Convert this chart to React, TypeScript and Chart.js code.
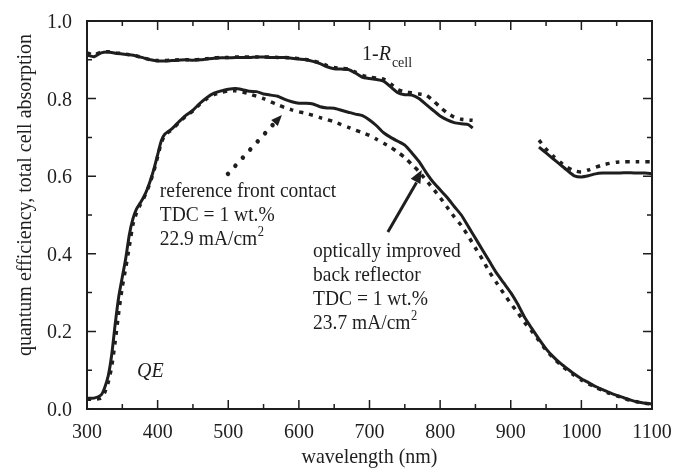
import { useEffect, useRef } from "react";
import { Chart, registerables } from "chart.js";

Chart.register(...registerables);

// ---------- data ----------
const qeWl = [300, 310, 320, 325, 330, 335, 340, 345, 350, 355, 360, 365, 370, 375, 380, 385, 390, 395, 400, 405, 410,
  420, 430, 440, 450, 460, 470, 480, 490, 500, 510, 520, 530, 540, 550, 560, 570, 580, 590, 600, 610, 620, 630, 640, 650,
  660, 670, 680, 690, 700, 710, 720, 730, 740, 750, 760, 770, 780, 790, 800, 810, 820, 830, 840, 850, 860, 870, 880, 890,
  900, 910, 920, 930, 940, 950, 960, 970, 980, 990, 1000, 1010, 1020, 1030, 1040, 1050, 1060, 1070, 1080, 1090, 1100];

// optically improved back reflector (solid)
const qeImproved = [0.028, 0.028, 0.036, 0.055, 0.085, 0.14, 0.22, 0.29, 0.34, 0.39, 0.45, 0.49, 0.515, 0.53, 0.545, 0.565, 0.59, 0.62, 0.655, 0.69, 0.708,
  0.722, 0.74, 0.757, 0.77, 0.788, 0.803, 0.814, 0.82, 0.824, 0.826, 0.823, 0.819, 0.818, 0.812, 0.809, 0.806, 0.798, 0.792, 0.788, 0.788, 0.786, 0.779, 0.776, 0.775,
  0.77, 0.765, 0.76, 0.756, 0.745, 0.73, 0.712, 0.7, 0.69, 0.68, 0.66, 0.638, 0.61, 0.585, 0.565, 0.545, 0.522, 0.5, 0.47, 0.44, 0.41, 0.38, 0.35, 0.325,
  0.3, 0.27, 0.235, 0.207, 0.18, 0.155, 0.135, 0.118, 0.104, 0.09, 0.078, 0.068, 0.058, 0.05, 0.042, 0.035, 0.029, 0.023, 0.018, 0.015, 0.013];

// reference front contact (dotted)
const qeReference = [0.025, 0.025, 0.028, 0.042, 0.068, 0.11, 0.175, 0.25, 0.315, 0.365, 0.42, 0.475, 0.505, 0.525, 0.542, 0.562, 0.587, 0.615, 0.65, 0.685, 0.705,
  0.72, 0.738, 0.755, 0.768, 0.786, 0.8, 0.81, 0.816, 0.82, 0.82, 0.817, 0.812, 0.806, 0.8, 0.792, 0.784, 0.777, 0.771, 0.766, 0.762, 0.757, 0.751, 0.746, 0.74,
  0.733, 0.726, 0.719, 0.712, 0.705, 0.695, 0.685, 0.675, 0.662, 0.648, 0.63, 0.612, 0.59, 0.568, 0.545, 0.52, 0.495, 0.473, 0.445, 0.415, 0.385, 0.353, 0.325, 0.298,
  0.272, 0.248, 0.222, 0.2, 0.176, 0.152, 0.132, 0.115, 0.1, 0.087, 0.075, 0.065, 0.056, 0.048, 0.04, 0.034, 0.028, 0.022, 0.018, 0.015, 0.013];

// 1 - R_cell, first segment
const rWl = [300, 310, 320, 330, 340, 350, 360, 370, 380, 390, 400, 410, 420, 430, 440, 450, 460, 470, 480, 490, 500,
  510, 520, 530, 540, 550, 560, 570, 580, 590, 600, 610, 620, 630, 640, 650, 660, 670, 680, 690, 700,
  710, 720, 730, 740, 750, 760, 770, 780, 790, 800, 810, 820, 830, 840, 846];
const rImproved = [0.912, 0.908, 0.918, 0.92, 0.917, 0.915, 0.913, 0.91, 0.905, 0.9, 0.897, 0.897, 0.898, 0.899, 0.9, 0.899, 0.9, 0.902, 0.904, 0.905, 0.905,
  0.906, 0.906, 0.906, 0.907, 0.907, 0.906, 0.906, 0.906, 0.904, 0.902, 0.9, 0.896, 0.89, 0.882, 0.877, 0.876, 0.875, 0.866, 0.855, 0.852,
  0.849, 0.845, 0.83, 0.815, 0.81, 0.809, 0.8, 0.785, 0.77, 0.755, 0.745, 0.738, 0.735, 0.733, 0.724];
const rReference = [0.918, 0.912, 0.92, 0.921, 0.918, 0.916, 0.913, 0.91, 0.905, 0.9, 0.898, 0.898, 0.899, 0.9, 0.9, 0.9, 0.901, 0.903, 0.905, 0.906, 0.906,
  0.907, 0.907, 0.907, 0.907, 0.907, 0.907, 0.906, 0.906, 0.905, 0.903, 0.901, 0.897, 0.892, 0.885, 0.88, 0.878, 0.876, 0.868, 0.86, 0.855,
  0.853, 0.85, 0.838, 0.823, 0.817, 0.815, 0.812, 0.809, 0.795, 0.778, 0.763, 0.752, 0.747, 0.745, 0.744];

// 1 - R_cell, second segment
const r2Wl = [940, 950, 960, 970, 980, 990, 1000, 1010, 1020, 1030, 1040, 1050, 1060, 1070, 1080, 1090, 1100];
const r2Improved = [0.675, 0.66, 0.645, 0.63, 0.615, 0.601, 0.598, 0.601, 0.606, 0.608, 0.608, 0.608, 0.609, 0.609, 0.608, 0.608, 0.607];
const r2Reference = [0.693, 0.67, 0.652, 0.636, 0.623, 0.614, 0.611, 0.616, 0.623, 0.629, 0.633, 0.636, 0.637, 0.637, 0.637, 0.637, 0.637];

const xTicks = [300, 400, 500, 600, 700, 800, 900, 1000, 1100];
const yTicks = [0, 0.2, 0.4, 0.6, 0.8, 1.0];
const xTitle = "wavelength (nm)";
const yTitle = "quantum efficiency, total cell absorption";
const refLines = ["reference front contact", "TDC = 1 wt.%", "22.9 mA/cm"];
const impLines = ["optically improved", "back reflector", "TDC = 1 wt.%", "23.7 mA/cm"];

// ---------- style ----------
const ink = "#1e1e1e";
const serif = "'Liberation Serif', 'Times New Roman', serif";
const SY = 1.1;

function pts(xs: number[], ys: number[]) {
  return xs.map((x, i) => ({ x, y: ys[i] }));
}

function text(ctx: CanvasRenderingContext2D, s: string, x: number, y: number, size: number, align: CanvasTextAlign = "left", italic = false) {
  ctx.save();
  ctx.translate(x, y);
  ctx.scale(1, SY);
  ctx.font = `${italic ? "italic " : ""}${size}px ${serif}`;
  ctx.textAlign = align;
  ctx.textBaseline = "alphabetic";
  ctx.fillStyle = ink;
  ctx.fillText(s, 0, 0);
  const w = ctx.measureText(s).width;
  ctx.restore();
  return w;
}

function arrowHead(ctx: CanvasRenderingContext2D, x0: number, y0: number, x1: number, y1: number, len: number, half: number) {
  const a = Math.atan2(y1 - y0, x1 - x0);
  const bx = x1 - Math.cos(a) * len;
  const by = y1 - Math.sin(a) * len;
  ctx.beginPath();
  ctx.moveTo(x1, y1);
  ctx.lineTo(bx + Math.sin(a) * half, by - Math.cos(a) * half);
  ctx.lineTo(bx - Math.sin(a) * half, by + Math.cos(a) * half);
  ctx.closePath();
  ctx.fill();
  return { bx, by };
}

const decor = {
  id: "decor",
  afterDatasetsDraw(chart: any) {
    const { ctx, chartArea: a, scales } = chart;
    const xs = scales.x, ys = scales.y;
    const X = (v: number) => xs.getPixelForValue(v);
    const Y = (v: number) => ys.getPixelForValue(v);
    ctx.save();
    ctx.strokeStyle = ink;
    ctx.fillStyle = ink;
    // frame
    ctx.lineWidth = 2;
    ctx.strokeRect(a.left, a.top, a.right - a.left, a.bottom - a.top);
    // ticks
    ctx.lineWidth = 1.5;
    ctx.beginPath();
    for (let v = 300; v <= 1100; v += 50) {
      const L = v % 100 === 0 ? 9 : 5;
      const px = X(v);
      ctx.moveTo(px, a.bottom); ctx.lineTo(px, a.bottom - L);
      ctx.moveTo(px, a.top); ctx.lineTo(px, a.top + L);
    }
    for (let k = 0; k <= 10; k++) {
      const L = k % 2 === 0 ? 9 : 5;
      const py = Y(k / 10);
      ctx.moveTo(a.left, py); ctx.lineTo(a.left + L, py);
      ctx.moveTo(a.right, py); ctx.lineTo(a.right - L, py);
    }
    ctx.stroke();
    // tick labels
    xTicks.forEach((v) => text(ctx, String(v), X(v), a.bottom + 29, 20, "center"));
    yTicks.forEach((v) => text(ctx, v.toFixed(1), a.left - 15, Y(v) + 7, 20, "right"));
    // axis titles
    text(ctx, xTitle, (a.left + a.right) / 2, 463, 20, "center");
    ctx.save();
    ctx.translate(31, 195);
    ctx.rotate(-Math.PI / 2);
    text(ctx, yTitle, 0, 0, 20, "center");
    ctx.restore();

    // 1-R_cell label
    {
      const x0 = X(689.4), y0 = Y(0.9);
      let w = text(ctx, "1-", x0, y0, 20);
      w += text(ctx, "R", x0 + w, y0, 20, "left", true);
      text(ctx, "cell", x0 + w + 1, y0 + 7, 14);
    }
    // QE label
    text(ctx, "QE", X(370.8), Y(0.082), 20, "left", true);

    // reference annotation text
    {
      const x0 = X(403), y0 = Y(0.546);
      refLines.forEach((s, i) => {
        const w = text(ctx, s, x0, y0 + i * 24, 19.5);
        if (i === refLines.length - 1) text(ctx, "2", x0 + w + 0.5, y0 + i * 24 - 9, 12.5);
      });
    }
    // improved annotation text
    {
      const x0 = X(620), y0 = Y(0.392);
      impLines.forEach((s, i) => {
        const w = text(ctx, s, x0, y0 + i * 24, 19.5);
        if (i === impLines.length - 1) text(ctx, "2", x0 + w + 0.5, y0 + i * 24 - 9, 12.5);
      });
    }

    // dotted arrow
    {
      const x0 = X(499.6), y0 = Y(0.606), x1 = X(576), y1 = Y(0.758);
      const h = arrowHead(ctx, x0, y0, x1, y1, 11, 4.5);
      ctx.setLineDash([0.01, 11]);
      ctx.lineCap = "round";
      ctx.lineWidth = 4.5;
      ctx.beginPath();
      ctx.moveTo(x0, y0);
      ctx.lineTo(h.bx, h.by);
      ctx.stroke();
      ctx.setLineDash([]);
    }
    // solid arrow
    {
      const x0 = X(726), y0 = Y(0.456), x1 = X(774), y1 = Y(0.616);
      const h = arrowHead(ctx, x0, y0, x1, y1, 13, 5.5);
      ctx.lineCap = "butt";
      ctx.lineWidth = 3;
      ctx.beginPath();
      ctx.moveTo(x0, y0);
      ctx.lineTo(h.bx + 1, h.by + 1);
      ctx.stroke();
    }
    ctx.restore();
  },
};

export default function App() {
  const ref = useRef<HTMLCanvasElement | null>(null);
  useEffect(() => {
    document.body.style.margin = "0";
    const canvas = ref.current!;
    const solid = { borderColor: ink, borderWidth: 3, pointRadius: 0, tension: 0.2, fill: false };
    const dotted = { borderColor: ink, borderWidth: 3.5, borderDash: [4, 6], pointRadius: 0, tension: 0.2, fill: false };
    const chart = new Chart(canvas, {
      type: "line",
      data: {
        datasets: [
          { ...solid, data: pts(qeWl, qeImproved) },
          { ...dotted, data: pts(qeWl, qeReference) },
          { ...solid, data: pts(rWl, rImproved) },
          { ...dotted, data: pts(rWl, rReference) },
          { ...solid, data: pts(r2Wl, r2Improved) },
          { ...dotted, data: pts(r2Wl, r2Reference) },
        ] as any,
      },
      options: {
        animation: false,
        responsive: false,
        maintainAspectRatio: false,
        layout: { padding: { top: 21, right: 23, left: 0, bottom: 0 } },
        plugins: { legend: { display: false }, tooltip: { enabled: false } },
        scales: {
          x: {
            type: "linear", min: 300, max: 1100,
            grid: { display: false }, border: { display: false },
            ticks: { display: false, stepSize: 100 },
            afterFit: (s: any) => { s.height = 62; },
          },
          y: {
            type: "linear", min: 0, max: 1,
            grid: { display: false }, border: { display: false },
            ticks: { display: false, stepSize: 0.2 },
            afterFit: (s: any) => { s.width = 87; },
          },
        },
      } as any,
      plugins: [decor],
    });
    return () => chart.destroy();
  }, []);
  return (
    <div style={{ width: 675, height: 471, background: "#fff" }}>
      <canvas ref={ref} width={675} height={471} style={{ display: "block" }} />
    </div>
  );
}
